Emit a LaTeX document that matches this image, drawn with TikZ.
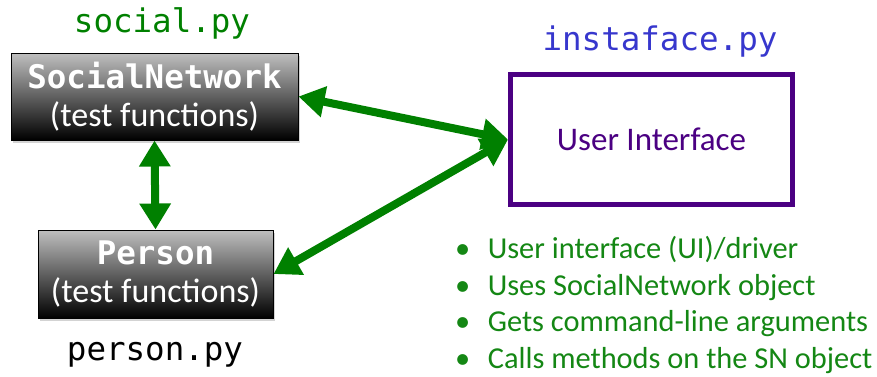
\documentclass[tikz,border=0pt]{standalone}
\usepackage{fontspec}
\setmainfont{Carlito}
\setmonofont{DejaVu Sans Mono}
\usetikzlibrary{arrows.meta,shadows}
\definecolor{arrgreen}{RGB}{0,128,0}
\definecolor{txtgreen}{RGB}{20,135,20}
\definecolor{fileblue}{RGB}{55,55,205}
\definecolor{uipurple}{RGB}{75,0,130}
\newcommand{\monobig}{\ttfamily\fontsize{32.5}{38}\selectfont}
\newcommand{\subtxt}{\rmfamily\fontsize{34}{38}\selectfont}
\tikzset{
  classbox/.style={draw=black, line width=1pt, top color=gray!50, bottom color=black,
    drop shadow={shadow xshift=2pt, shadow yshift=-3pt, opacity=0.35},
    text=white, align=center, inner sep=0pt, font=\fontsize{32}{38}\selectfont},
  uibox/.style={draw=uipurple, line width=5pt, fill=white, minimum width=282pt, minimum height=130pt,
    text=uipurple, font=\fontsize{33}{38}\selectfont},
  filelbl/.style={font=\monobig},
  biarrow/.style={arrgreen, line width=8pt, {Triangle[length=26pt,width=30pt]}-{Triangle[length=26pt,width=30pt]}},
}
\begin{document}
\begin{tikzpicture}[x=1pt,y=-1pt]
\useasboundingbox (0,0) rectangle (877,376);
\node[classbox, minimum width=287pt, minimum height=87pt] (sn) at (154.5,96.5)
  {{\monobig\bfseries SocialNetwork}\\{\subtxt (test functions)}};
\node[classbox, minimum width=235pt, minimum height=88pt] (person) at (155.5,274)
  {\rule{0pt}{8pt}{\monobig\bfseries Person}\\{\subtxt (test functions)}};
\node[uibox] (ui) at (651.5,139.5) {User Interface};
\node[filelbl, text=arrgreen] (socpy) at (162,23) {social.py};
\node[filelbl, text=black] (perpy) at (155,355) {person.py};
\node[filelbl, text=fileblue] (instapy) at (660,42) {instaface.py};
\node[anchor=north west, text=txtgreen, inner sep=0pt, font=\fontsize{30.4}{36.5}\selectfont] (bullets) at (455,233)
  {\begin{tabular}{@{}l@{\hspace{17.5pt}}l@{}}
   \textbullet & User interface (UI)/driver\\
   \textbullet & Uses SocialNetwork object\\
   \textbullet & Gets command-line arguments\\
   \textbullet & Calls methods on the SN object
   \end{tabular}};
\draw[biarrow] (sn.east) -- (ui.west);
\draw[biarrow] (person.east) -- (ui.west);
\draw[biarrow] (sn.south) -- (person.north);
\end{tikzpicture}
\end{document}
